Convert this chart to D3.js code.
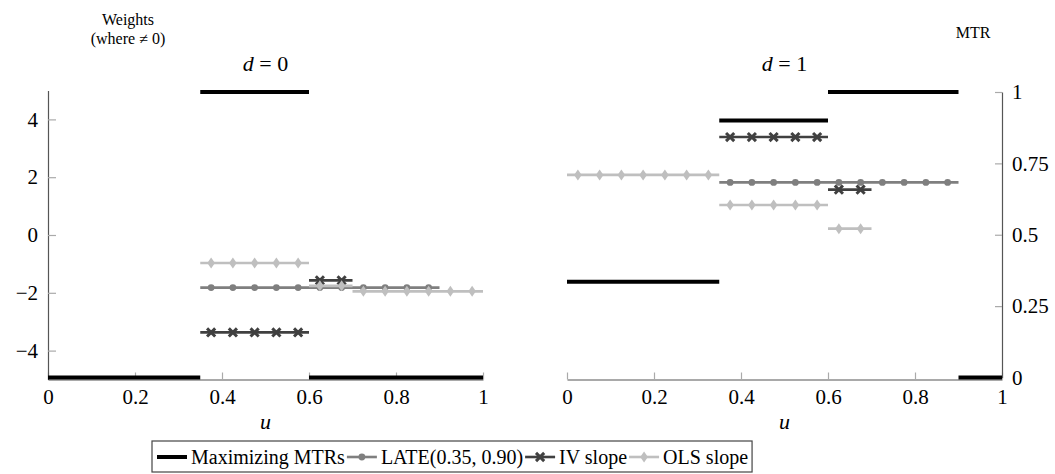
<!DOCTYPE html>
<html>
<head>
<meta charset="utf-8">
<script src="https://cdn.jsdelivr.net/npm/d3@7"></script>
<style>
  body { margin: 0; background: #fff; }
  text { font-family: "Liberation Serif", "DejaVu Serif", serif; fill: #000; }
</style>
</head>
<body>
<svg id="chart" width="1055" height="474"></svg>
<script>
// weight segments: [u start, u end, weight]
var late0 = [[0.35, 0.90, -1.82]];
var iv0   = [[0.35, 0.60, -3.37], [0.60, 0.70, -1.57]];
var ols0  = [[0.35, 0.60, -0.97], [0.60, 0.70, -1.76], [0.70, 1.00, -1.95]];
var late1 = [[0.35, 0.90, 1.82]];
var iv1   = [[0.35, 0.60, 3.39], [0.60, 0.70, 1.57]];
var ols1  = [[0.00, 0.35, 2.08], [0.35, 0.60, 1.04], [0.60, 0.70, 0.22]];
// maximizing MTR segments: [u start, u end, MTR]
var mtr0  = [[0.00, 0.35, 0], [0.35, 0.60, 1], [0.60, 1.00, 0]];
var mtr1  = [[0.00, 0.35, 0.335], [0.35, 0.60, 0.9], [0.60, 0.90, 1], [0.90, 1.00, 0]];

var xTicks = [0, 0.2, 0.4, 0.6, 0.8, 1];
var wTicks = [-4, -2, 0, 2, 4];
var mTicks = [0, 0.25, 0.5, 0.75, 1];
var legendLabels = ["Maximizing MTRs", "LATE(0.35, 0.90)", "IV slope", "OLS slope"];

var svg = d3.select("#chart");
var fmt = d3.format("~g");

var yW = d3.scaleLinear().domain([-5, 5]).range([379.5, 90.5]);
var yM = d3.scaleLinear().domain([0, 1]).range([377.5, 92]);

var colors = { mtr: "#000", late: "#7f7f7f", iv: "#404040", ols: "#bfbfbf" };

function marker(g, kind, x, y) {
  if (kind == "late") {
    g.append("circle").attr("cx", x).attr("cy", y).attr("r", 3.4).attr("fill", colors.late);
  } else if (kind == "iv") {
    g.append("path").attr("transform", `translate(${x},${y})`)
      .attr("d", d3.symbol(d3.symbolX, 45)())
      .attr("stroke", colors.iv).attr("stroke-width", 3).attr("fill", "none");
  } else {
    g.append("path").attr("transform", `translate(${x},${y})`)
      .attr("d", "M0,-5.5L3.8,0L0,5.5L-3.8,0Z").attr("fill", colors.ols);
  }
}

function styleAxis(a) {
  a.select(".domain").attr("stroke", "#555").attr("stroke-width", 1.2);
  a.selectAll(".tick line").attr("stroke", "#aaa").attr("stroke-width", 1.2);
  a.selectAll("text").attr("font-size", 21).attr("font-family", "Liberation Serif");
}

function drawPanel(x0, x1, side, d, mtr, late, iv, ols) {
  var x = d3.scaleLinear().domain([0, 1]).range([x0, x1]);
  var g = svg.append("g");

  // x axis
  var xa = g.append("g").attr("transform", `translate(0,${yW(-5)})`)
    .call(d3.axisBottom(x).tickValues(xTicks).tickFormat(fmt).tickSize(-7).tickSizeOuter(0).tickPadding(10));
  styleAxis(xa);

  if (side == "left") {
    var ya = g.append("g").attr("transform", `translate(${x0},0)`)
      .call(d3.axisLeft(yW).tickValues(wTicks).tickFormat(fmt).tickSize(-8).tickSizeOuter(0).tickPadding(10));
    styleAxis(ya);
  } else {
    var ma = g.append("g").attr("transform", `translate(${x1},0)`)
      .call(d3.axisRight(yM).tickValues(mTicks).tickFormat(fmt).tickSize(-7).tickSizeOuter(0).tickPadding(10));
    styleAxis(ma);
  }

  // MTR segments
  mtr.forEach(function(s) {
    g.append("line").attr("x1", x(s[0])).attr("x2", x(s[1]))
      .attr("y1", yM(s[2])).attr("y2", yM(s[2]))
      .attr("stroke", colors.mtr).attr("stroke-width", 4);
  });

  [["late", late], ["iv", iv], ["ols", ols]].forEach(function(series) {
    var kind = series[0];
    series[1].forEach(function(s) {
      g.append("line").attr("x1", x(s[0])).attr("x2", x(s[1]))
        .attr("y1", yW(s[2])).attr("y2", yW(s[2]))
        .attr("stroke", colors[kind]).attr("stroke-width", 2.6);
      d3.range(s[0] + 0.025, s[1], 0.05).forEach(function(u) {
        marker(g, kind, x(u), yW(s[2]));
      });
    });
  });

  // panel title
  var t = g.append("text").attr("x", (x0 + x1) / 2).attr("y", 71)
    .attr("text-anchor", "middle").attr("font-size", 22);
  t.append("tspan").attr("font-style", "italic").text("d");
  t.append("tspan").text(" = " + d);

  g.append("text").attr("x", (x0 + x1) / 2).attr("y", 429)
    .attr("text-anchor", "middle").attr("font-size", 22).attr("font-style", "italic").text("u");
}

drawPanel(48, 483, "left", 0, mtr0, late0, iv0, ols0);
drawPanel(567, 1002, "right", 1, mtr1, late1, iv1, ols1);

// axis titles
svg.append("text").attr("x", 128).attr("y", 25).attr("text-anchor", "middle").attr("font-size", 16).text("Weights");
svg.append("text").attr("x", 128).attr("y", 44).attr("text-anchor", "middle").attr("font-size", 16).text("(where \u2260 0)");
svg.append("text").attr("x", 973).attr("y", 38).attr("text-anchor", "middle").attr("font-size", 16).text("MTR");

// legend
var legend = svg.append("g");
var box = legend.append("rect").attr("x", 152).attr("y", 441).attr("height", 31)
  .attr("fill", "#fff").attr("stroke", "#444").attr("stroke-width", 1.2);
var kinds = ["mtr", "late", "iv", "ols"];
var lx = 157, ly = 457;
legendLabels.forEach(function(lab, i) {
  var k = kinds[i];
  legend.append("line").attr("x1", lx).attr("x2", lx + 30).attr("y1", ly).attr("y2", ly)
    .attr("stroke", colors[k]).attr("stroke-width", k == "mtr" ? 4 : 2.6);
  if (k != "mtr") marker(legend, k, lx + 15, ly);
  var txt = legend.append("text").attr("x", lx + 34).attr("y", ly + 7).attr("font-size", 20).text(lab);
  lx += 34 + txt.node().getComputedTextLength() + 2;
});
box.attr("width", lx - 152 + 2);
</script>
</body>
</html>
